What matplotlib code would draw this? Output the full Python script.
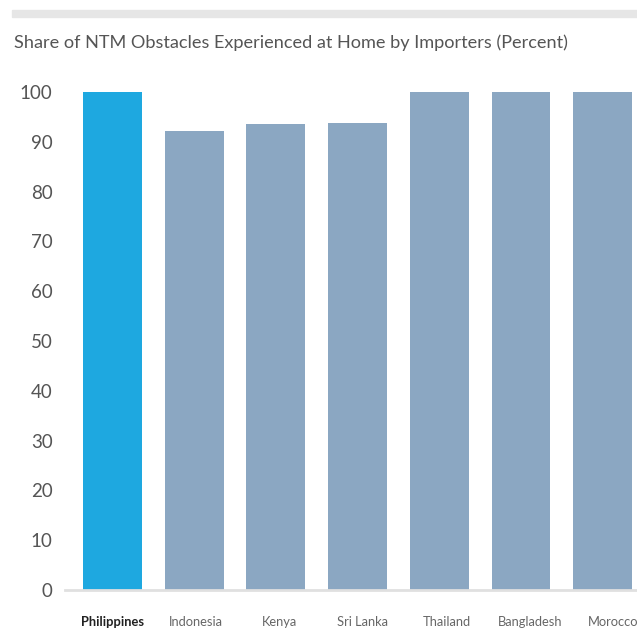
import matplotlib.pyplot as plt
from matplotlib import font_manager

# Data
countries = ["Philippines", "Indonesia", "Kenya", "Sri Lanka", "Thailand", "Bangladesh", "Morocco"]
shares = [100, 92.2, 93.6, 93.8, 100, 100, 100]
yticks = [0, 10, 20, 30, 40, 50, 60, 70, 80, 90, 100]

highlight = "#1ea8e0"
other = "#8ba7c2"
text_color = "#555555"

names = {f.name for f in font_manager.fontManager.ttflist}
family = "Lato" if "Lato" in names else "DejaVu Sans"
plt.rcParams["font.family"] = family

W, H = 637, 644
fig = plt.figure(figsize=(W / 100, H / 100), dpi=100)

# grey band across the top
fig.patches.append(plt.Rectangle((12 / W, 1 - 17 / H), 1, 7 / H,
                                 transform=fig.transFigure, color="#e6e6e6", zorder=0))

fig.text(14 / W, 1 - 43 / H, "Share of NTM Obstacles Experienced at Home by Importers (Percent)",
         fontsize=13.1, color=text_color, va="center", ha="left")

ax = fig.add_axes([65 / W, 54 / H, 1 - 65 / W, (590 - 92) / H])
colors = [highlight] + [other] * (len(countries) - 1)
ax.bar(range(len(countries)), shares, width=0.72, color=colors, zorder=2)
ax.set_xlim(-0.58, 6.42)
ax.set_ylim(0, 100)

ax.set_yticks(yticks)
ax.set_yticklabels([str(t) for t in yticks], fontsize=13.5, color=text_color)
# labels sit on a slightly wider pitch than the bars
ax.set_xticks([i * 1.022 for i in range(len(countries))])
ax.set_xticklabels(countries, fontsize=9.3, color="#666666")
lbl = ax.get_xticklabels()[0]
lbl.set_fontweight("bold")
lbl.set_color("#222222")

ax.tick_params(axis="y", length=0, pad=9)
ax.tick_params(axis="x", length=0, pad=19)
for s in ["top", "right", "left"]:
    ax.spines[s].set_visible(False)
ax.spines["bottom"].set_color("#e0e0e0")
ax.spines["bottom"].set_linewidth(2)
ax.spines["bottom"].set_zorder(3)

fig.savefig("out.png", dpi=100)
